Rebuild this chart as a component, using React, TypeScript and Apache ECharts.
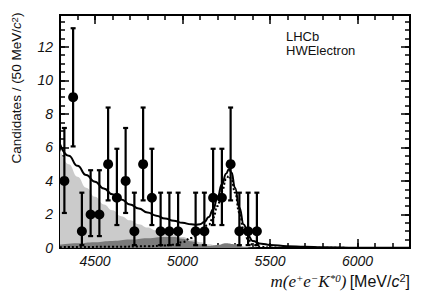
import React, { useEffect, useRef } from "react";
import * as echarts from "echarts";

// ---- data ----
const binCenters = [4325, 4375, 4425, 4475, 4525, 4575, 4625, 4675, 4725, 4775, 4825, 4875, 4925, 4975, 5075, 5125, 5175, 5225, 5275, 5325, 5375, 5425];
const counts = [4, 9, 1, 2, 2, 5, 3, 4, 1, 5, 3, 1, 1, 1, 1, 1, 3, 3, 5, 1, 1, 1];
const errLow = [2.09, 6.06, 0.17, 0.71, 0.71, 2.84, 1.37, 2.09, 0.17, 2.84, 1.37, 0.17, 0.17, 0.17, 0.17, 0.17, 1.37, 1.37, 2.84, 0.17, 0.17, 0.17];
const errHigh = [7.16, 13.11, 3.3, 4.64, 4.64, 8.38, 5.92, 7.16, 3.3, 8.38, 5.92, 3.3, 3.3, 3.3, 3.3, 3.3, 5.92, 5.92, 8.38, 3.3, 3.3, 3.3];

const totalMass = [4300, 4350, 4400, 4450, 4500, 4550, 4600, 4650, 4700, 4750, 4800, 4850, 4900, 4950, 5000, 5050, 5075, 5100, 5125, 5150, 5175, 5200, 5225, 5250, 5265, 5280, 5300, 5325, 5350, 5375, 5400, 5450, 5500, 5600, 5700, 5800, 6000, 6300];
const totalFit = [6.2, 5.5, 4.9, 4.35, 3.95, 3.55, 3.2, 2.9, 2.6, 2.35, 2.12, 1.93, 1.76, 1.62, 1.5, 1.41, 1.39, 1.42, 1.55, 1.85, 2.3, 3.0, 3.8, 4.45, 4.7, 4.5, 3.6, 2.4, 1.4, 0.75, 0.42, 0.26, 0.18, 0.11, 0.07, 0.04, 0.02, 0.01];

const signalMass = [4300, 4600, 4800, 4900, 4950, 5000, 5050, 5100, 5150, 5175, 5200, 5225, 5250, 5265, 5280, 5300, 5325, 5350, 5375, 5400, 5450, 5500, 5600, 6300];
const signalFit = [0.05, 0.07, 0.1, 0.15, 0.2, 0.35, 0.6, 0.95, 1.4, 1.8, 2.5, 3.4, 4.1, 4.3, 4.1, 3.3, 2.1, 1.1, 0.5, 0.2, 0.07, 0.03, 0.01, 0.0];

const partRecoMass = [4300, 4350, 4400, 4450, 4500, 4550, 4600, 4650, 4700, 4750, 4800, 4850, 4900, 4950, 5000, 5050, 5100, 5150, 5200, 5250, 5300, 5400, 6300];
const partRecoBkg = [5.9, 5.0, 4.25, 3.6, 3.05, 2.6, 2.25, 1.9, 1.65, 1.42, 1.22, 1.05, 0.9, 0.78, 0.65, 0.5, 0.35, 0.22, 0.12, 0.06, 0.03, 0.0, 0.0];

const otherMass = [4300, 4400, 4500, 4600, 4700, 4800, 4900, 4950, 5000, 5050, 5100, 5150, 5200, 5250, 5300, 5350, 5400, 5450, 6300];
const otherBkg = [0.2, 0.28, 0.35, 0.42, 0.5, 0.58, 0.65, 0.65, 0.55, 0.4, 0.22, 0.12, 0.18, 0.28, 0.22, 0.08, 0.02, 0.0, 0.0];

const xMajorTicks = [4500, 5000, 5500, 6000];
const xMinorTicks = [4300, 4400, 4500, 4600, 4700, 4800, 4900, 5000, 5100, 5200, 5300, 5400, 5500, 5600, 5700, 5800, 5900, 6000, 6100, 6200, 6300];
const yMajorTicks = [0, 2, 4, 6, 8, 10, 12];
const yMinorTicks = [0, 0.5, 1, 1.5, 2, 2.5, 3, 3.5, 4, 4.5, 5, 5.5, 6, 6.5, 7, 7.5, 8, 8.5, 9, 9.5, 10, 10.5, 11, 11.5, 12, 12.5, 13, 13.5];

const X_MIN = 4300;
const X_MAX = 6300;
const Y_MAX = 13.9;

const FONT = "Liberation Sans, Arial, Helvetica, sans-serif";
const SERIF = "Liberation Serif, Times New Roman, serif";

function zip(xs: number[], ys: number[]) {
  return xs.map((x, i) => [x, ys[i]]);
}

export default function App() {
  const ref = useRef<HTMLDivElement>(null);

  useEffect(() => {
    if (!ref.current) return;
    const chart = echarts.init(ref.current, undefined, { renderer: "svg" });

    const plain = (v: number) => String(v);

    const axisCommonX = (pos: "bottom" | "top", ticks: number[], len: number, labels: boolean) => ({
      type: "value",
      position: pos,
      min: X_MIN,
      max: X_MAX,
      axisLine: { show: true, onZero: false, lineStyle: { color: "#000", width: 2 } },
      axisTick: { show: true, inside: true, length: len, customValues: ticks, lineStyle: { color: "#000", width: 1.5 } },
      axisLabel: labels
        ? { show: true, customValues: xMajorTicks, formatter: plain, fontFamily: FONT, fontStyle: "italic", fontSize: 14, color: "#111", margin: 6 }
        : { show: false },
      splitLine: { show: false },
    });
    const axisCommonY = (pos: "left" | "right", ticks: number[], len: number, labels: boolean) => ({
      type: "value",
      position: pos,
      min: 0,
      max: Y_MAX,
      axisLine: { show: true, onZero: false, lineStyle: { color: "#000", width: 2 } },
      axisTick: { show: true, inside: true, length: len, customValues: ticks, lineStyle: { color: "#000", width: 1.5 } },
      axisLabel: labels
        ? { show: true, customValues: yMajorTicks, formatter: plain, fontFamily: FONT, fontStyle: "italic", fontSize: 14, color: "#111", margin: 7 }
        : { show: false },
      splitLine: { show: false },
    });

    const errData = binCenters.map((x, i) => [x, counts[i], errLow[i], errHigh[i]]);

    chart.setOption({
      animation: false,
      grid: { left: 60, right: 22, top: 15, bottom: 48, containLabel: false },
      xAxis: [
        axisCommonX("bottom", xMajorTicks, 9, true),
        axisCommonX("bottom", xMinorTicks, 5, false),
        axisCommonX("top", xMajorTicks, 9, false),
        axisCommonX("top", xMinorTicks, 5, false),
      ],
      yAxis: [
        axisCommonY("left", yMajorTicks, 9, true),
        axisCommonY("left", yMinorTicks, 5, false),
        axisCommonY("right", yMajorTicks, 9, false),
        axisCommonY("right", yMinorTicks, 5, false),
      ],
      series: [
        {
          type: "line",
          data: zip(partRecoMass, partRecoBkg),
          smooth: true,
          smoothMonotone: "x",
          showSymbol: false,
          lineStyle: { width: 0 },
          areaStyle: { color: "#cbcbcb", opacity: 1 },
          z: 1,
        },
        {
          type: "line",
          data: zip(otherMass, otherBkg),
          smooth: true,
          smoothMonotone: "x",
          showSymbol: false,
          lineStyle: { width: 0 },
          areaStyle: { color: "#7b7b7b", opacity: 1 },
          z: 2,
        },
        {
          type: "line",
          data: zip(signalMass, signalFit),
          smooth: true,
          smoothMonotone: "x",
          showSymbol: false,
          lineStyle: { width: 2, color: "#000", type: [2, 2] },
          z: 3,
        },
        {
          type: "line",
          data: zip(totalMass, totalFit),
          smooth: true,
          smoothMonotone: "x",
          showSymbol: false,
          lineStyle: { width: 2, color: "#000" },
          z: 4,
        },
        {
          type: "custom",
          data: errData,
          z: 5,
          renderItem: (params: any, api: any) => {
            const x = api.value(0);
            const lo = api.coord([x, api.value(2)]);
            const hi = api.coord([x, api.value(3)]);
            const cap = 2.5;
            const style = { stroke: "#000", lineWidth: 2.2 };
            return {
              type: "group",
              children: [
                { type: "line", shape: { x1: lo[0], y1: lo[1], x2: hi[0], y2: hi[1] }, style },
                { type: "line", shape: { x1: lo[0] - cap, y1: lo[1], x2: lo[0] + cap, y2: lo[1] }, style },
                { type: "line", shape: { x1: hi[0] - cap, y1: hi[1], x2: hi[0] + cap, y2: hi[1] }, style },
              ],
            };
          },
        },
        {
          type: "scatter",
          data: zip(binCenters, counts),
          symbol: "circle",
          symbolSize: 10,
          itemStyle: { color: "#000", opacity: 1 },
          z: 6,
        },
      ],
      graphic: [
        {
          type: "text",
          left: 286,
          top: 29,
          style: {
            text: "LHCb\nHWElectron",
            font: `13px ${FONT}`,
            lineHeight: 14,
            fill: "#111",
          },
        },
        {
          type: "text",
          x: 16,
          y: 88,
          rotation: Math.PI / 2,
          style: {
            text: "{r|Candidates / (50 MeV/}{i|c}{s|2}{r|)}",
            align: "center",
            verticalAlign: "middle",
            fill: "#111",
            rich: {
              r: { fontFamily: FONT, fontSize: 13.5, fill: "#111" },
              i: { fontFamily: FONT, fontSize: 13.5, fontStyle: "italic", fill: "#111" },
              s: { fontFamily: FONT, fontSize: 9.5, verticalAlign: "top", fill: "#111" },
            },
          },
        },
        {
          type: "text",
          x: 410,
          y: 281,
          style: {
            text: "{m|m(e}{s|+}{m|e}{s|−}{m|K}{s|*0}{m|)} {r|[MeV/}{i|c}{s2|2}{r|]}",
            align: "right",
            verticalAlign: "middle",
            fill: "#111",
            rich: {
              m: { fontFamily: SERIF, fontStyle: "italic", fontSize: 17, fill: "#111" },
              s: { fontFamily: SERIF, fontStyle: "italic", fontSize: 11, verticalAlign: "top", fill: "#111" },
              r: { fontFamily: FONT, fontSize: 16, fill: "#111" },
              i: { fontFamily: FONT, fontSize: 16, fontStyle: "italic", fill: "#111" },
              s2: { fontFamily: FONT, fontSize: 11, verticalAlign: "top", fill: "#111" },
            },
          },
        },
      ],
    });

    return () => chart.dispose();
  }, []);

  return (
    <div
      ref={ref}
      style={{ position: "absolute", left: 0, top: 0, width: 432, height: 296, background: "#fff" }}
    />
  );
}
